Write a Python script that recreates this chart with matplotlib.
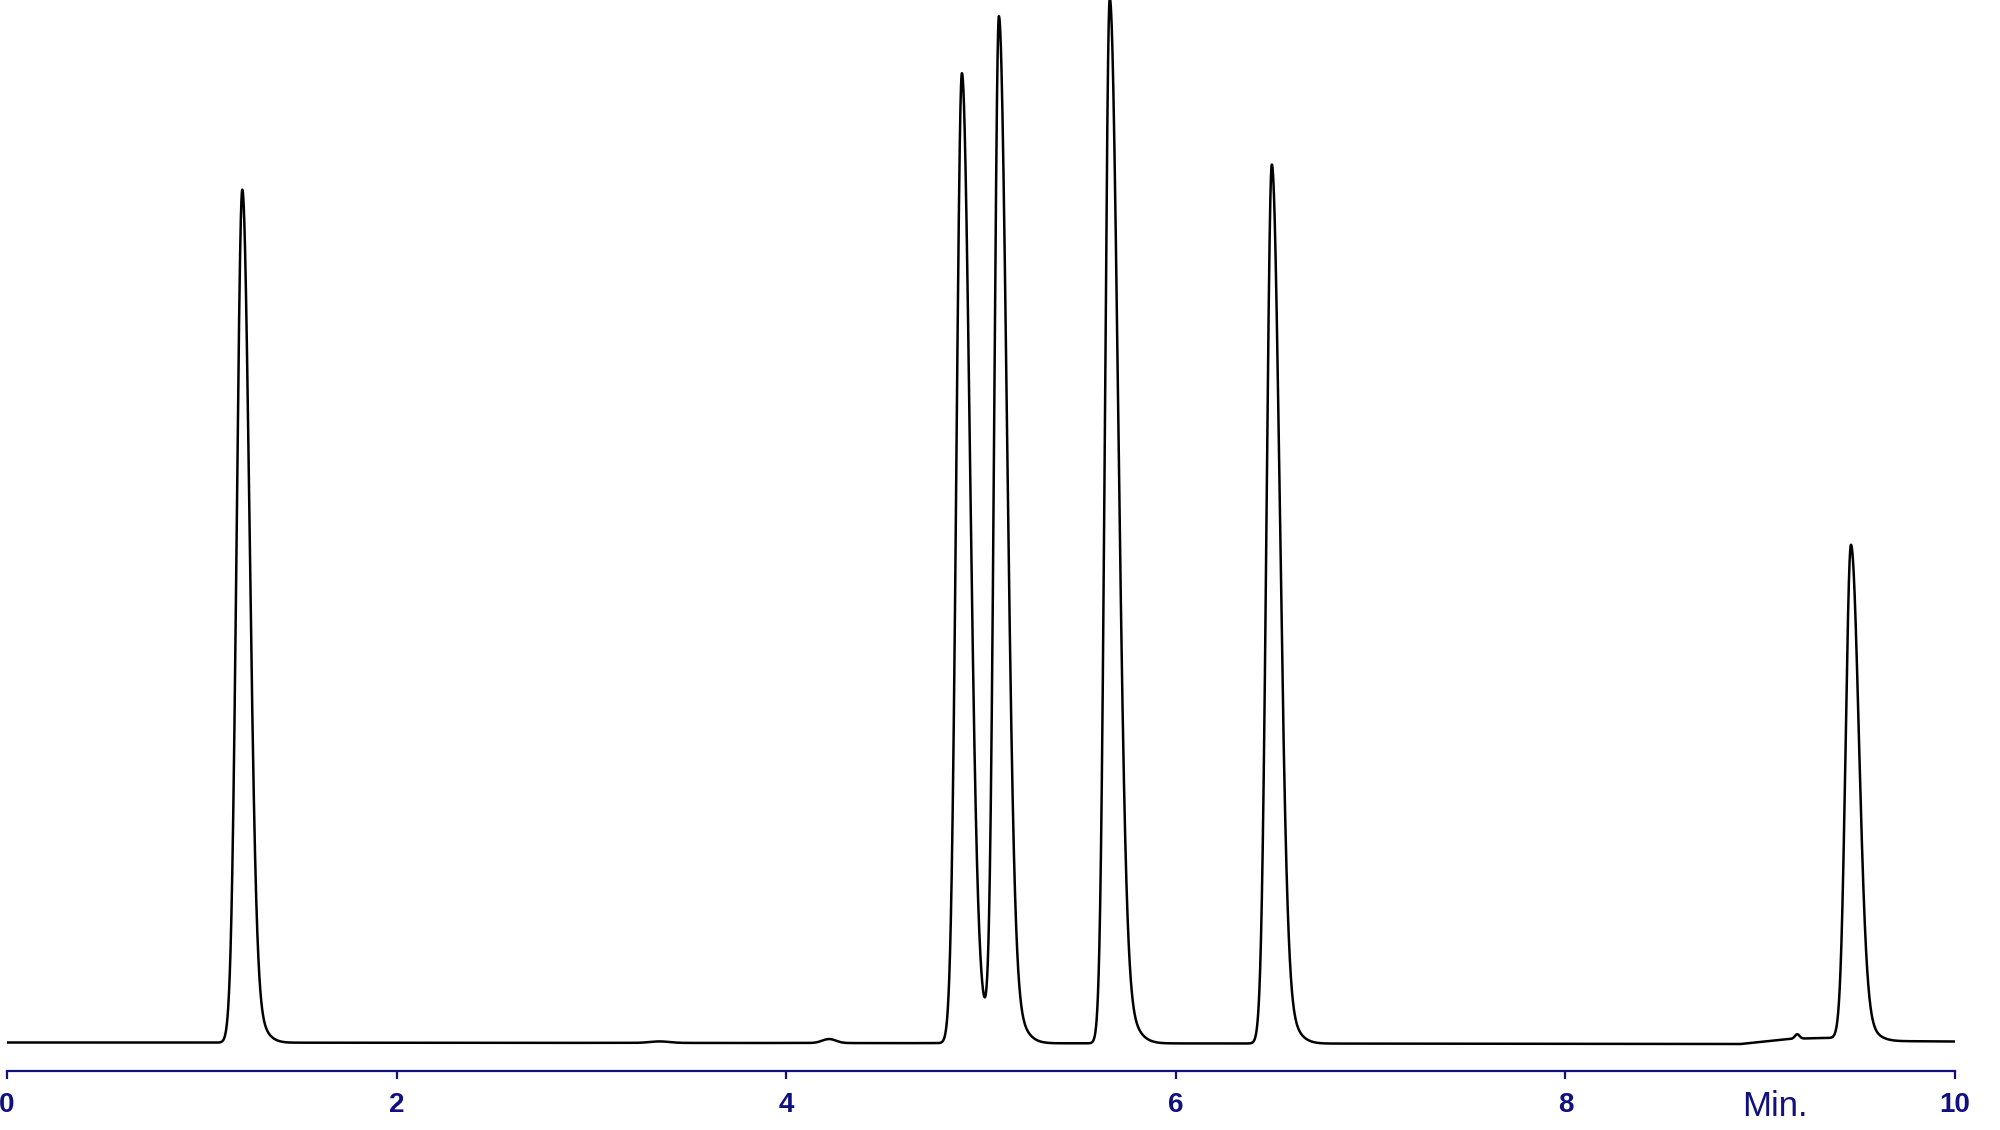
import numpy as np
import matplotlib
matplotlib.use("Agg")
import matplotlib.pyplot as plt

# ---- data ----
# main peaks (retention time in min, height in detector units)
peak_times = [1.208, 4.902, 5.092, 5.661, 6.493, 9.466]
peak_heights = [853, 970, 1023, 1045, 879, 494]
peak_sigma_left = [0.0287, 0.0280, 0.0240, 0.0245, 0.0270, 0.0270]
peak_sigma_right = [0.0360, 0.0400, 0.0400, 0.0420, 0.0400, 0.0400]
peak_tail_frac = [0.06, 0.07, 0.06, 0.06, 0.06, 0.06]

# minor peaks
minor_times = [3.35, 4.22, 9.19]
minor_heights = [1.5, 4.0, 4.5]
minor_sigma = [0.05, 0.035, 0.012]

# baseline drift knots
base_times = [0.0, 4.0, 8.9, 9.05, 9.15, 9.3, 9.42, 9.6, 10.0]
base_offsets = [0.5, 0.0, -1.0, 2.0, 4.0, 5.0, 5.0, 2.0, 1.5]

tick_values = [0, 2, 4, 6, 8, 10]
tick_labels = ["0", "2", "4", "6", "8", "10"]
x_label = "Min."

NAVY = "#10107e"

# ---- build trace ----
t = np.linspace(0, 10, 20001)
signal = np.interp(t, base_times, base_offsets)
for tr, h, sl, sr, a in zip(peak_times, peak_heights, peak_sigma_left,
                            peak_sigma_right, peak_tail_frac):
    d = t - tr
    left = np.exp(-d**2 / (2 * sl**2))
    right = (1 - a) * np.exp(-d**2 / (2 * sr**2)) + a * np.exp(-d**2 / (2 * (2 * sr)**2))
    signal += h * np.where(d < 0, left, right)
for tr, h, s in zip(minor_times, minor_heights, minor_sigma):
    signal += h * np.exp(-(t - tr)**2 / (2 * s**2))

# ---- figure ----
fig = plt.figure(figsize=(20, 11.3), dpi=100)
ax = fig.add_axes([0.0035, 0.0, 0.974, 1.0])
ax.plot(t, signal, color="black", lw=1.8, solid_joinstyle="round")
ax.set_xlim(0, 10)
ax.set_ylim(-87, 1043)

for s in ["top", "left", "right"]:
    ax.spines[s].set_visible(False)
ax.spines["bottom"].set_position(("data", -27.7))
ax.spines["bottom"].set_color(NAVY)
ax.spines["bottom"].set_linewidth(1.6)
ax.spines["bottom"].set_bounds(0, 10)
ax.set_yticks([])
ax.set_xticks(tick_values)
ax.set_xticklabels(tick_labels)
ax.tick_params(axis="x", direction="out", length=6, width=1.6, color=NAVY,
               pad=9, labelcolor=NAVY, labelsize=20)
for lab in ax.get_xticklabels():
    lab.set_fontfamily("Liberation Sans")
    lab.set_fontweight("bold")
ax.patch.set_alpha(0)

ax.text(9.076, -63, x_label, ha="center", va="center", color=NAVY,
        fontsize=25, family="Liberation Sans")

fig.savefig("out.png", dpi=100)
